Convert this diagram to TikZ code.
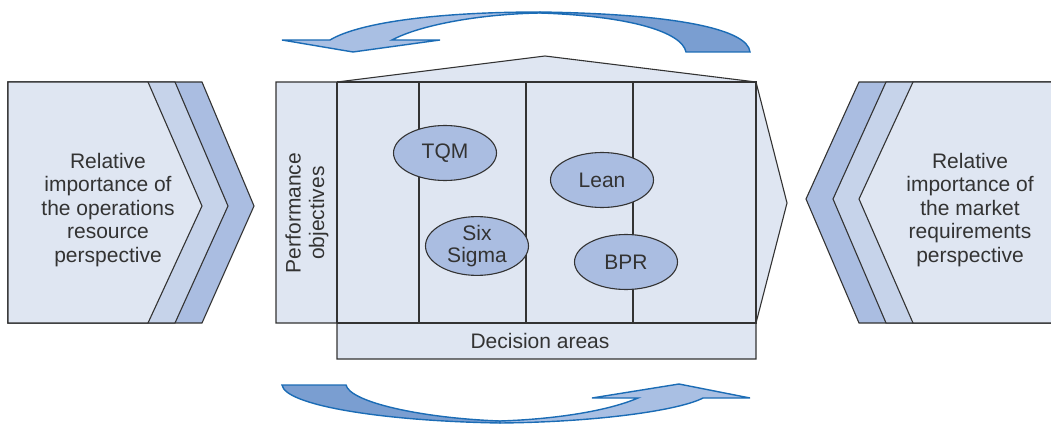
\documentclass[tikz,border=0pt]{standalone}
\usepackage{fontspec}
\setmainfont{Liberation Sans}
\usetikzlibrary{shapes.geometric}

\definecolor{paleblue}{HTML}{DFE6F2}
\definecolor{midblue}{HTML}{C6D3EA}
\definecolor{deepblue}{HTML}{AABDE1}
\definecolor{arrowdark}{HTML}{7A9ED1}
\definecolor{arrowlight}{HTML}{A9BFE3}
\definecolor{arrowline}{HTML}{1B6CB5}
\definecolor{inkgrey}{HTML}{333333}

\begin{document}
\begin{tikzpicture}[x=1pt, y=-1pt, line join=miter,
        panel/.style={draw=inkgrey, line width=1.1pt},
        blob/.style={ellipse, draw=inkgrey, line width=1.1pt, fill=deepblue, minimum width=103pt, minimum height=55pt, inner sep=0pt, align=center, text=inkgrey, font=\fontsize{21}{22}\selectfont},
        curl/.style={draw=arrowline, line width=1.4pt},
        txt/.style={align=center, text=inkgrey, font=\fontsize{21}{23.5}\selectfont}]
    \useasboundingbox (0,0) rectangle (1051,425);

    % left chevrons
    \draw[panel, fill=deepblue] (8,82) -- (202,82) -- (254,206) -- (202,323) -- (8,323) -- cycle;
    \draw[panel, fill=midblue] (8,82) -- (175,82) -- (228,206) -- (175,323) -- (8,323) -- cycle;
    \draw[panel, fill=paleblue] (8,82) -- (148,82) -- (202,206) -- (148,323) -- (8,323) -- cycle;

    % right chevrons
    \draw[panel, fill=deepblue] (1051,82) -- (859,82) -- (806,199) -- (859,323) -- (1051,323);
    \draw[panel, fill=midblue] (1051,82) -- (886,82) -- (833,199) -- (886,323) -- (1051,323);
    \draw[panel, fill=paleblue] (1051,82) -- (913,82) -- (859,199) -- (913,323) -- (1051,323);

    % centre block
    \draw[panel, fill=paleblue] (337,82) -- (545,56) -- (756,82) -- (787,203) -- (756,323) -- (756,359) -- (337,359) -- (337,323) -- (276,323) -- (276,82) -- cycle;
    \draw[panel] (337,82) -- (756,82) -- (756,323) -- (337,323);
    \draw[panel] (337,82) -- (337,323);
    \foreach \xa in {419, 526, 633}
        \draw[panel] (\xa,82) -- (\xa,323);

    % top arrow
    \draw[curl, fill=arrowlight] (540,12) .. controls (440,12) and (360,22) .. (330,40) -- (282,40) -- (353,52) -- (440,40) -- (392,40) .. controls (420,25) and (480,14) .. (540,13) -- cycle;
    \draw[curl, fill=arrowdark] (540,12) .. controls (680,14) and (748,30) .. (750,52) -- (686,52) .. controls (682,32) and (630,16) .. (540,13) -- cycle;

    % bottom arrow
    \draw[curl, fill=arrowdark] (282,385) -- (346,385) .. controls (350,402) and (420,418) .. (500,421) -- (500,423) .. controls (380,421) and (285,405) .. (282,385) -- cycle;
    \draw[curl, fill=arrowlight] (500,421) .. controls (560,419) and (610,410) .. (638,398) -- (592,398) -- (679,384) -- (750,398) -- (703,398) .. controls (680,410) and (600,422) .. (500,423) -- cycle;

    % labels
    \node[txt] (resource) at (108,210) {Relative\\importance of\\the operations\\resource\\perspective};
    \node[txt] (market) at (970,210) {Relative\\importance of\\the market\\requirements\\perspective};
    \node[txt, rotate=90] (objectives) at (307,213) {Performance\\objectives};
    \node[txt] (areas) at (540,341) {Decision areas};

    % methods
    \node[blob] (tqm) at (445,153) {TQM};
    \node[blob] (sixsigma) at (477,246) {Six\\Sigma};
    \node[blob] (lean) at (602,180) {Lean};
    \node[blob] (bpr) at (626,262) {BPR};
\end{tikzpicture}
\end{document}
